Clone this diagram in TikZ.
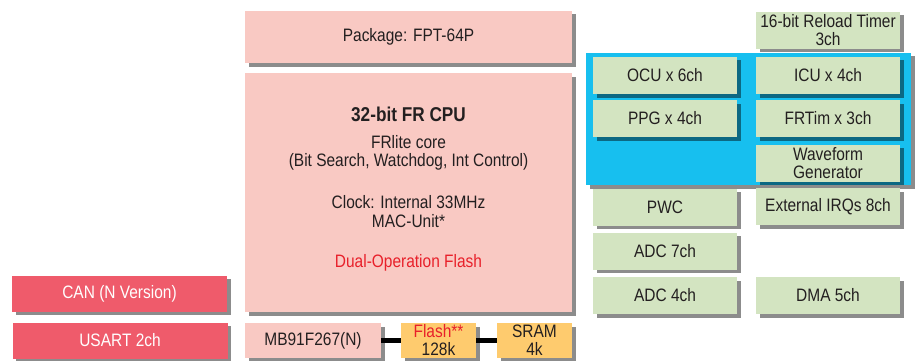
\documentclass[tikz,border=0pt]{standalone}
\usepackage{fontspec}
\setmainfont{Liberation Sans}[FakeStretch=0.86]
\usetikzlibrary{shadows}

\definecolor{inkdark}{HTML}{231F20}
\definecolor{pinkfill}{HTML}{F9C9C3}
\definecolor{redfill}{HTML}{EF5B6B}
\definecolor{greenfill}{HTML}{D3E4C1}
\definecolor{memfill}{HTML}{FECB6E}
\definecolor{bluefill}{HTML}{17BFEF}
\definecolor{flashred}{HTML}{E8202A}

\begin{document}
\begin{tikzpicture}[x=1pt, y=-1pt, font=\fontsize{18}{18}\selectfont,
    blk/.style={align=center, inner sep=0pt, text=inkdark,
      drop shadow={shadow xshift=3.5pt, shadow yshift=-3.5pt, fill=black,
      opacity=0.45}},
    pinkbox/.style={blk, fill=pinkfill},
    redbox/.style={blk, fill=redfill, text=white, minimum width=215pt,
      minimum height=36pt},
    greenbox/.style={blk, fill=greenfill, minimum width=144pt,
      minimum height=37pt},
    membox/.style={blk, fill=memfill, minimum width=75pt, minimum height=35pt},
    cputext/.style={anchor=base, text=inkdark},
    bus/.style={line width=4.5pt, black}]

  \useasboundingbox (0,0) rectangle (920,361);

  % Core column
  \node[pinkbox, minimum width=327pt, minimum height=52pt] (pkg) at (408.5,37)
  {Package: FPT-64P}; \node[pinkbox, minimum width=327pt, minimum
  height=239pt] (cpu) at (408.5,192.5) {};

  \node[cputext, font=\fontsize{20}{22}\selectfont\bfseries] (cputitle) at
  (408.5,121) {32-bit FR CPU}; \node[cputext] (core) at (408.5,148) {FRlite
  core}; \node[cputext] (coreopt) at (408.5,166) {(Bit Search, Watchdog, Int
  Control)}; \node[cputext] (clock) at (408.5,208) {Clock: Internal 33MHz};
  \node[cputext] (mac) at (408.5,227) {MAC-Unit*}; \node[cputext,
  text=flashred] (dualop) at (408.5,267) {Dual-Operation Flash};

  % Memory row
  \node[pinkbox, minimum width=136pt, minimum height=35pt] (chip) at
  (313,340.5) {MB91F267(N)}; \node[membox] (flash) at (438.5,340.5)
  {\textcolor{flashred}{Flash**}\\128k}; \node[membox] (sram) at (534.5,340.5)
  {SRAM\\4k};

  \draw[bus] (chip) -- (flash); \draw[bus] (flash) -- (sram);

  % Communication
  \node[redbox] (can) at (119.5,293.5) {CAN (N Version)}; \node[redbox]
  (usart) at (120,340.5) {USART 2ch};

  % Timer group
  \node[blk, fill=bluefill, minimum width=325pt, minimum height=132pt]
  (timers) at (748.5,119) {};

  \node[greenbox] (reload) at (828,30.5) {16-bit Reload Timer\\3ch};
  \node[greenbox] (ocu) at (665,75.5) {OCU x 6ch}; \node[greenbox] (icu) at
  (828,75.5) {ICU x 4ch}; \node[greenbox] (ppg) at (665,118.5) {PPG x 4ch};
  \node[greenbox] (frt) at (828,118.5) {FRTim x 3ch}; \node[greenbox] (wave)
  at (828,163) {Waveform\\Generator};

  % Other peripherals
  \node[greenbox] (pwc) at (665,207) {PWC}; \node[greenbox] (irq) at
  (828,206.5) {External IRQs 8ch}; \node[greenbox] (adcseven) at (665,251)
  {ADC 7ch}; \node[greenbox] (adcfour) at (665,295.5) {ADC 4ch};
  \node[greenbox] (dma) at (828,295.5) {DMA 5ch};

\end{tikzpicture}
\end{document}
